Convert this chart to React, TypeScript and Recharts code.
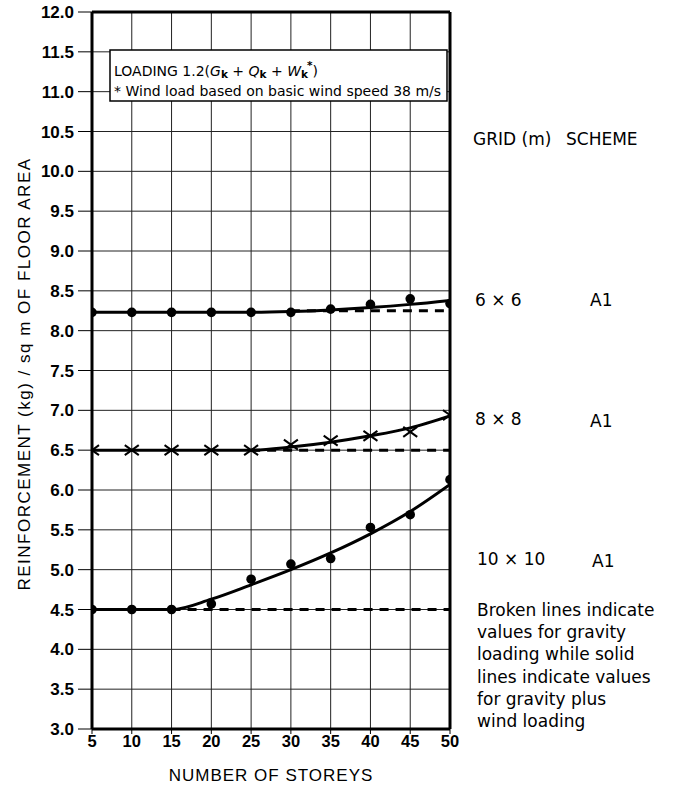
import React from 'react';
import {
  ComposedChart,
  Line,
  Scatter,
  XAxis,
  YAxis,
  CartesianGrid,
  ReferenceLine,
} from 'recharts';

// Number of storeys (x axis)
const storeys = [5, 10, 15, 20, 25, 30, 35, 40, 45, 50];
const yTicks = [3, 3.5, 4, 4.5, 5, 5.5, 6, 6.5, 7, 7.5, 8, 8.5, 9, 9.5, 10, 10.5, 11, 11.5, 12];

// 6 x 6 grid
const grid6Points = [8.23, 8.23, 8.23, 8.23, 8.23, 8.23, 8.27, 8.33, 8.4, 8.34];
const grid6Fit = [8.23, 8.23, 8.23, 8.23, 8.23, 8.24, 8.26, 8.29, 8.33, 8.38];
const grid6GravityStoreys = [30, 35, 40, 45, 50];
const grid6Gravity = [8.25, 8.25, 8.25, 8.25, 8.25];

// 8 x 8 grid
const grid8Points = [6.5, 6.5, 6.5, 6.5, 6.5, 6.57, 6.62, 6.68, 6.73, 6.94];
const grid8Fit = [6.5, 6.5, 6.5, 6.5, 6.5, 6.54, 6.6, 6.68, 6.78, 6.93];
const grid8GravityStoreys = [25, 30, 35, 40, 45, 50];
const grid8Gravity = [6.5, 6.5, 6.5, 6.5, 6.5, 6.5];

// 10 x 10 grid
const grid10Points = [4.5, 4.5, 4.5, 4.57, 4.88, 5.07, 5.14, 5.53, 5.69, 6.13];
const grid10Fit = [4.5, 4.5, 4.5, 4.63, 4.81, 5.0, 5.21, 5.45, 5.73, 6.07];
const grid10GravityStoreys = [15, 20, 25, 30, 35, 40, 45, 50];
const grid10Gravity = [4.5, 4.5, 4.5, 4.5, 4.5, 4.5, 4.5, 4.5];

const noteLines = [
  'Broken lines indicate',
  'values for gravity',
  'loading while solid',
  'lines indicate values',
  'for gravity plus',
  'wind loading',
];

const toRows = (xs: number[], ys: number[]) => xs.map((x, i) => ({ x, y: ys[i] }));

const sans = '"Liberation Sans", Arial, sans-serif';
const noteFont = '"DejaVu Sans", sans-serif';

function Dot(props: any) {
  const { cx, cy } = props;
  return <circle cx={cx} cy={cy} r={4.8} fill="#000" />;
}

function Cross(props: any) {
  const { cx, cy } = props;
  return (
    <g stroke="#000" strokeWidth={2}>
      <line x1={cx - 7} y1={cy - 5} x2={cx + 7} y2={cy + 5} />
      <line x1={cx - 7} y1={cy + 5} x2={cx + 7} y2={cy - 5} />
    </g>
  );
}

export default function App() {
  return (
    <div style={{ position: 'absolute', left: 0, top: 0, width: 675, height: 789, background: '#fff' }}>
      <ComposedChart width={675} height={789} margin={{ top: 12, right: 225, bottom: 0, left: 0 }}>
        <CartesianGrid stroke="#222" strokeWidth={1} />
        <XAxis
          dataKey="x"
          type="number"
          domain={[5, 50]}
          ticks={storeys}
          allowDataOverflow
          height={60}
          tickSize={5}
          tickMargin={1}
          tick={{ fill: '#000', fontSize: 16.5, fontWeight: 'bold', fontFamily: sans }}
          tickLine={{ stroke: '#000', strokeWidth: 1 }}
          axisLine={{ stroke: '#000', strokeWidth: 3 }}
          label={{
            value: 'NUMBER OF STOREYS',
            position: 'insideBottom',
            offset: 8,
            style: { fill: '#000', fontSize: 17, letterSpacing: 1, fontFamily: sans },
          }}
        />
        <YAxis
          type="number"
          domain={[3, 12]}
          ticks={yTicks}
          allowDataOverflow
          width={92}
          tickSize={14}
          tickMargin={4}
          tick={{ fill: '#000', fontSize: 17, fontWeight: 'bold', fontFamily: sans }}
          tickFormatter={(v: number) => v.toFixed(1)}
          tickLine={{ stroke: '#000', strokeWidth: 1 }}
          axisLine={{ stroke: '#000', strokeWidth: 3 }}
        />
        <ReferenceLine y={12} stroke="#000" strokeWidth={3} />
        <ReferenceLine x={50} stroke="#000" strokeWidth={3} />

        {/* Gravity loading (broken lines) */}
        <Line data={toRows(grid6GravityStoreys, grid6Gravity)} dataKey="y" stroke="#000" strokeWidth={3} strokeDasharray="9 7" dot={false} isAnimationActive={false} />
        <Line data={toRows(grid8GravityStoreys, grid8Gravity)} dataKey="y" stroke="#000" strokeWidth={3} strokeDasharray="9 7" dot={false} isAnimationActive={false} />
        <Line data={toRows(grid10GravityStoreys, grid10Gravity)} dataKey="y" stroke="#000" strokeWidth={3} strokeDasharray="9 7" dot={false} isAnimationActive={false} />

        {/* Gravity plus wind (solid lines) */}
        <Line data={toRows(storeys, grid6Fit)} type="monotone" dataKey="y" stroke="#000" strokeWidth={3} dot={false} isAnimationActive={false} />
        <Line data={toRows(storeys, grid8Fit)} type="monotone" dataKey="y" stroke="#000" strokeWidth={3} dot={false} isAnimationActive={false} />
        <Line data={toRows(storeys, grid10Fit)} type="monotone" dataKey="y" stroke="#000" strokeWidth={3} dot={false} isAnimationActive={false} />

        {/* Calculated points */}
        <Scatter data={toRows(storeys, grid6Points)} dataKey="y" shape={<Dot />} isAnimationActive={false} />
        <Scatter data={toRows(storeys, grid8Points)} dataKey="y" shape={<Cross />} isAnimationActive={false} />
        <Scatter data={toRows(storeys, grid10Points)} dataKey="y" shape={<Dot />} isAnimationActive={false} />
      </ComposedChart>

      {/* Annotations */}
      <svg width={675} height={789} style={{ position: 'absolute', left: 0, top: 0, pointerEvents: 'none' }}>
        <text
          transform="translate(24,374) rotate(-90)"
          textAnchor="middle"
          dominantBaseline="central"
          fontSize={17}
          letterSpacing={1.5}
          fontFamily={sans}
          fill="#000"
        >
          REINFORCEMENT (kg) / sq m OF FLOOR AREA
        </text>

        <rect x={110} y={50} width={337} height={51} fill="#fff" stroke="#000" strokeWidth={1.5} />
        <text x={114} y={76} fontSize={14} fontFamily={noteFont} fill="#000">
          LOADING 1.2(<tspan fontStyle="italic">G</tspan>
          <tspan dy={2} fontSize={10.5} fontWeight="bold">k</tspan>
          <tspan dy={-2}> + </tspan>
          <tspan fontStyle="italic">Q</tspan>
          <tspan dy={2} fontSize={10.5} fontWeight="bold">k</tspan>
          <tspan dy={-2}> + </tspan>
          <tspan fontStyle="italic">W</tspan>
          <tspan dy={2} fontSize={10.5} fontWeight="bold">k</tspan>
          <tspan dx={-1} dy={-9} fontSize={10.5} fontWeight="bold">*</tspan>
          <tspan dy={7}>)</tspan>
        </text>
        <text x={114} y={96} fontSize={14} fontFamily={noteFont} fill="#000">
          * Wind load based on basic wind speed 38 m/s
        </text>

        <g fontSize={17} fontFamily={noteFont} fill="#000">
          <text x={473} y={145}>GRID (m)</text>
          <text x={566} y={145}>SCHEME</text>
          <text x={475} y={306}>6 × 6</text>
          <text x={590} y={306}>A1</text>
          <text x={475} y={425}>8 × 8</text>
          <text x={590} y={427}>A1</text>
          <text x={477} y={565}>10 × 10</text>
          <text x={592} y={567}>A1</text>
          {noteLines.map((line, i) => (
            <text key={line} x={477} y={616 + i * 22.2}>
              {line}
            </text>
          ))}
        </g>
      </svg>
    </div>
  );
}
